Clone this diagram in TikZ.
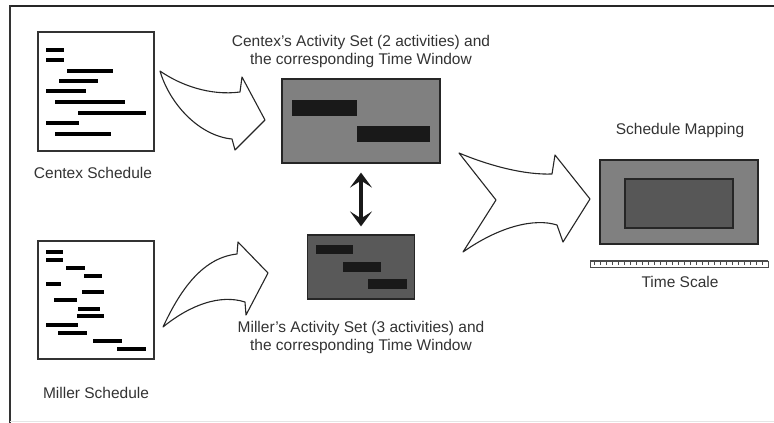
\documentclass[tikz,border=0pt]{standalone}
\usepackage{fontspec}
\setmainfont{Liberation Sans}
\usetikzlibrary{arrows.meta}

\begin{document}
\begin{tikzpicture}[x=1pt,y=-1pt,
		lbl/.style={text=black!80, font=\fontsize{15.5}{18}\selectfont, inner sep=0pt, align=center},
		sched/.style={draw=black!80, line width=1.2pt, fill=white},
		win/.style={draw=black!85, line width=1.2pt, inner sep=0pt},
		bar/.style={line width=4pt, black},
		actbar/.style={fill=black!90},
		swoosh/.style={draw=black!85, line width=1.1pt, fill=white, line join=round},
		dbl/.style={line width=3.8pt, black!90, {Stealth[length=15pt,width=22pt,inset=7pt]}-{Stealth[length=15pt,width=22pt,inset=7pt]}}]
				\useasboundingbox (0,0) rectangle (774,423);
				\fill[white] (0,0) rectangle (774,423);
				\draw[line width=2pt, black!85] (10,5.5) -- (774,5.5);
				\draw[line width=1.2pt, black!80] (10,5) -- (10,423);
				\draw[line width=1pt, black!10] (10,421) -- (774,421);
				
				\node[sched, minimum width=116pt, minimum height=119pt] (centex) at (96,91.5) {};
				\draw[bar] (46,49.7) -- (64,49.7);
				\draw[bar] (46,60.3) -- (64,60.3);
				\draw[bar] (67,71) -- (113,71);
				\draw[bar] (59,81) -- (98,81);
				\draw[bar] (46,91) -- (86,91);
				\draw[bar] (55,101.7) -- (125,101.7);
				\draw[bar] (78,112.7) -- (146,112.7);
				\draw[bar] (46,123) -- (79,123);
				\draw[bar] (55,133.7) -- (111,133.7);
				\node[lbl] (centexlbl) at (93,173) {Centex Schedule};
				
				\node[sched, minimum width=116pt, minimum height=118pt] (miller) at (96,300) {};
				\draw[bar] (46,251.7) -- (63,251.7);
				\draw[bar] (46,260) -- (63,260);
				\draw[bar] (66,268.3) -- (85,268.3);
				\draw[bar] (84,276) -- (102,276);
				\draw[bar] (46,283.7) -- (61,283.7);
				\draw[bar] (82,292) -- (104,292);
				\draw[bar] (54,300.3) -- (77,300.3);
				\draw[bar] (78,308.7) -- (100,308.7);
				\draw[bar] (77,316.3) -- (104,316.3);
				\draw[bar] (46,324.7) -- (78,324.7);
				\draw[bar] (58,332.7) -- (87,332.7);
				\draw[bar] (93,341) -- (122,341);
				\draw[bar] (117,349) -- (146,349);
				\node[lbl] (millerlbl) at (96,393) {Miller Schedule};
				
				\draw[swoosh] (160,71) .. controls (180,85) and (210,96) .. (240,92) -- (242,77) -- (265,120)
					-- (235,150) -- (232,139) .. controls (200,136) and (170,105) .. (160,71) -- cycle;
				\draw[swoosh] (163,327) .. controls (178,295) and (200,258) .. (237,254) -- (238,242) -- (268,273)
					-- (246,315) -- (245,302) .. controls (220,294) and (190,305) .. (163,327) -- cycle;
				
				\node[win, fill=black!50, minimum width=158pt, minimum height=84pt] (cset) at (361,121) {};
				\fill[actbar] (292,100) rectangle (357,116);
				\fill[actbar] (357,126) rectangle (430,142);
				\node[lbl] (csetlbl) at (361,51.7) {Centex's Activity Set (2 activities) and\\the corresponding Time Window};
				
				\node[win, fill=black!65, minimum width=107pt, minimum height=64pt] (mset) at (361,267) {};
				\fill[actbar] (316,245) rectangle (353,254);
				\fill[actbar] (343,262) rectangle (381,272);
				\fill[actbar] (368,279) rectangle (407,289);
				\node[lbl] (msetlbl) at (361,337.7) {Miller's Activity Set (3 activities) and\\the corresponding Time Window};
				
				\draw[dbl, shorten <=9pt, shorten >=8pt] (cset.south) -- (mset.north);
				
				\draw[swoosh] (459,153) .. controls (490,166) and (525,175) .. (552,174) -- (555,155) -- (590,199)
					-- (563,242) -- (557,225) .. controls (535,218) and (500,226) .. (463,252) -- (496,200) -- cycle;
				
				\node[lbl] (maplbl) at (680,130) {Schedule Mapping};
				\node[win, fill=black!50, minimum width=158pt, minimum height=84pt] (map) at (679,202) {};
				\node[win, fill=black!66, minimum width=108pt, minimum height=49pt] (mapin) at (679,203.5) {};
				
				\draw[black!70, line width=0.8pt] (590,261.5) rectangle (768,267.5);
				\draw[black!70, line width=0.6pt, xstep=6pt, ystep=10pt] (590,261.5) grid (768,264.5);
				\node[lbl] (scalelbl) at (680,282) {Time Scale};
			\end{tikzpicture}
\end{document}
